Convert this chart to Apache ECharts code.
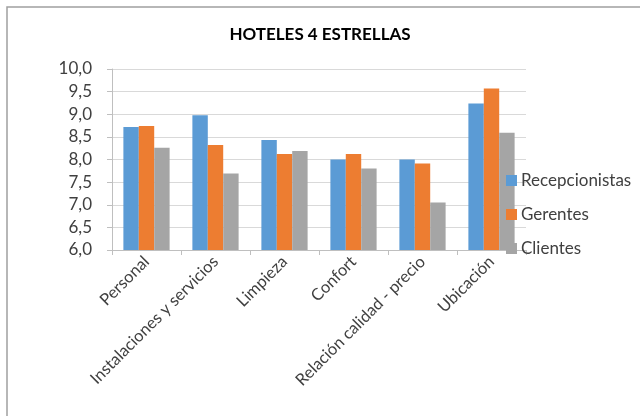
<!DOCTYPE html>
<html><head><meta charset="utf-8">
<script src="https://cdn.jsdelivr.net/npm/echarts@6/dist/echarts.min.js"></script>
<style>html,body{margin:0;padding:0;background:#fff}#c{width:640px;height:416px}</style>
</head><body><div id="c"></div>
<script>
var categories = ['Personal', 'Instalaciones y servicios', 'Limpieza', 'Confort', 'Relación calidad - precio', 'Ubicación'];
var recepcionistas = [8.72, 8.98, 8.43, 8.0, 8.0, 9.24];
var gerentes = [8.74, 8.32, 8.12, 8.12, 7.91, 9.57];
var clientes = [8.26, 7.69, 8.19, 7.80, 7.05, 8.59];
var FONT = 'Lato';
var chart = echarts.init(document.getElementById('c'), null, {renderer: 'canvas'});
chart.setOption({
  backgroundColor: '#fff',
  animation: false,
  textStyle: {fontFamily: FONT},
  graphic: [{type: 'rect', shape: {x: 7, y: 7, width: 700, height: 500}, style: {fill: 'none', stroke: '#a0a0a0', lineWidth: 1.5}, silent: true}],
  title: {text: 'HOTELES 4 ESTRELLAS', left: 'center', top: 21, textStyle: {fontFamily: FONT, fontSize: 17, fontWeight: 'bold', color: '#000'}},
  legend: {
    orient: 'vertical', left: 501, top: 167, itemWidth: 11, itemHeight: 11, itemGap: 17, itemStyle: {borderWidth: 0},
    textStyle: {fontFamily: FONT, fontSize: 17, lineHeight: 17, color: '#404040', padding: [0, 0, 0, -1]},
    data: ['Recepcionistas', 'Gerentes', 'Clientes'], icon: 'rect'
  },
  grid: {left: 112, right: 114, top: 69, bottom: 166, containLabel: false},
  xAxis: {
    type: 'category', data: categories,
    axisLine: {lineStyle: {color: '#bfbfbf'}},
    axisTick: {show: true, length: 5, lineStyle: {color: '#bfbfbf'}},
    axisLabel: {rotate: 45, interval: 0, fontFamily: FONT, fontSize: 16.5, color: '#404040', margin: 9}
  },
  yAxis: {
    type: 'value', min: 6, max: 10, interval: 0.5,
    axisLine: {show: true, lineStyle: {color: '#bfbfbf'}},
    axisTick: {show: true, length: 5, lineStyle: {color: '#bfbfbf'}},
    splitLine: {lineStyle: {color: '#d9d9d9'}},
    axisLabel: {fontFamily: FONT, fontSize: 17, color: '#404040', margin: 20, formatter: function (v) { return v.toFixed(1).replace('.', ','); }}
  },
  series: [
    {name: 'Recepcionistas', type: 'bar', data: recepcionistas, itemStyle: {color: '#5b9bd5'}, barGap: '0%', barCategoryGap: '33%'},
    {name: 'Gerentes', type: 'bar', data: gerentes, itemStyle: {color: '#ed7d31'}},
    {name: 'Clientes', type: 'bar', data: clientes, itemStyle: {color: '#a5a5a5'}}
  ]
});
</script></body></html>
